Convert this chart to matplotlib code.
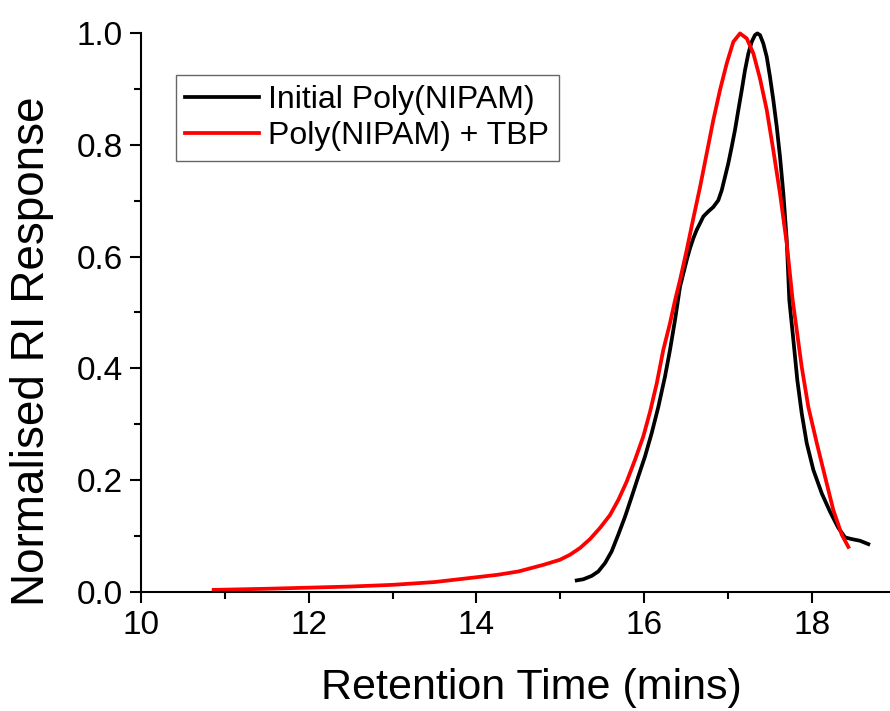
import numpy as np
import matplotlib.pyplot as plt
from matplotlib.ticker import MultipleLocator

plt.rcParams['font.family'] = ['Liberation Sans', 'DejaVu Sans']

# Initial Poly(NIPAM) - black trace (retention time, normalised RI)
t_initial = [15.194, 15.272, 15.372, 15.451, 15.531, 15.610, 15.689, 15.769,
             15.849, 15.927, 16.007, 16.087, 16.166, 16.245, 16.305, 16.365,
             16.424, 16.464, 16.504, 16.543, 16.583, 16.623, 16.663, 16.702,
             16.761, 16.821, 16.880, 16.921, 16.960, 16.999, 17.040, 17.079,
             17.119, 17.159, 17.198, 17.238, 17.278, 17.317, 17.345, 17.377,
             17.416, 17.457, 17.496, 17.535, 17.576, 17.615, 17.655, 17.695,
             17.726, 17.774, 17.821, 17.873, 17.933, 18.012, 18.112, 18.211,
             18.310, 18.390, 18.469, 18.568, 18.667]
ri_initial = [0.020, 0.022, 0.028, 0.036, 0.051, 0.072, 0.102, 0.134,
              0.170, 0.206, 0.242, 0.284, 0.331, 0.385, 0.433, 0.487,
              0.546, 0.570, 0.594, 0.615, 0.633, 0.648, 0.660, 0.672,
              0.681, 0.689, 0.701, 0.719, 0.743, 0.767, 0.797, 0.827,
              0.863, 0.898, 0.934, 0.964, 0.985, 0.997, 1.000, 0.997,
              0.982, 0.958, 0.922, 0.881, 0.833, 0.779, 0.713, 0.630,
              0.522, 0.451, 0.379, 0.320, 0.266, 0.218, 0.176, 0.143,
              0.114, 0.097, 0.094, 0.091, 0.085]

# Poly(NIPAM) + TBP - red trace
t_tbp = [10.87, 11.5, 12.01, 12.5, 13.0, 13.5, 14.02, 14.25, 14.50, 14.65,
         14.80, 14.995, 15.114, 15.233, 15.352, 15.471, 15.590, 15.689,
         15.789, 15.888, 15.987, 16.067, 16.147, 16.225, 16.305, 16.365,
         16.424, 16.504, 16.583, 16.663, 16.742, 16.821, 16.901, 16.980,
         17.059, 17.139, 17.219, 17.298, 17.377, 17.457, 17.535, 17.615,
         17.695, 17.766, 17.814, 17.873, 17.952, 18.053, 18.151, 18.250,
         18.350, 18.429]
ri_tbp = [0.003, 0.005, 0.007, 0.009, 0.012, 0.017, 0.026, 0.030, 0.036, 0.042,
          0.048, 0.057, 0.066, 0.078, 0.094, 0.114, 0.137, 0.164,
          0.197, 0.236, 0.278, 0.322, 0.373, 0.433, 0.481, 0.522,
          0.558, 0.612, 0.669, 0.725, 0.785, 0.845, 0.899, 0.946,
          0.985, 1.000, 0.991, 0.964, 0.919, 0.863, 0.791, 0.713,
          0.624, 0.522, 0.469, 0.403, 0.331, 0.266, 0.206, 0.146,
          0.102, 0.080]

y_ticks = [0.0, 0.2, 0.4, 0.6, 0.8, 1.0]
y_ticklabels = ['0.0', '0.2', '0.4', '0.6', '0.8', '1.0']

fig = plt.figure(figsize=(8.9, 7.11), dpi=100)
ax = fig.add_axes([0.158, 0.168, 0.842, 0.785])

ax.plot(t_initial, ri_initial, color='black', lw=2.7, label='Initial Poly(NIPAM)',
        clip_on=False, solid_joinstyle='round')
ax.plot(t_tbp, ri_tbp, color='red', lw=2.7, label='Poly(NIPAM) + TBP',
        clip_on=False, solid_joinstyle='round')

ax.set_xlim(10, 18.925)
ax.set_ylim(0, 1.0)
ax.xaxis.set_major_locator(MultipleLocator(2))
ax.xaxis.set_minor_locator(MultipleLocator(1))
ax.set_yticks(y_ticks)
ax.set_yticklabels(y_ticklabels)
ax.yaxis.set_minor_locator(MultipleLocator(0.1))

for s in ['top', 'right']:
    ax.spines[s].set_visible(False)
for s in ['left', 'bottom']:
    ax.spines[s].set_linewidth(1.5)

ax.tick_params(which='major', direction='out', length=8, width=1.5, labelsize=24, pad=5)
ax.tick_params(which='minor', direction='out', length=5, width=1.5)

# axis titles placed like the original (slightly off-centre)
fig.text(531.5 / 890, 1 - 699 / 711, 'Retention Time (mins)', fontsize=31,
         ha='center', va='baseline')
fig.text(32 / 890, 1 - 351 / 711, 'Normalised RI Response', fontsize=33,
         rotation=90, ha='center', va='center')

leg = ax.legend(loc='upper left', bbox_to_anchor=(0.047, 0.925), borderaxespad=0,
                fontsize=23, frameon=True, fancybox=False, handlelength=2.3,
                handletextpad=0.3, labelspacing=0.2, borderpad=0.3)
leg.get_frame().set_edgecolor('#404040')
leg.get_frame().set_linewidth(1.0)
for line in leg.get_lines():
    line.set_linewidth(2.7)

fig.savefig('out.png', dpi=100)
